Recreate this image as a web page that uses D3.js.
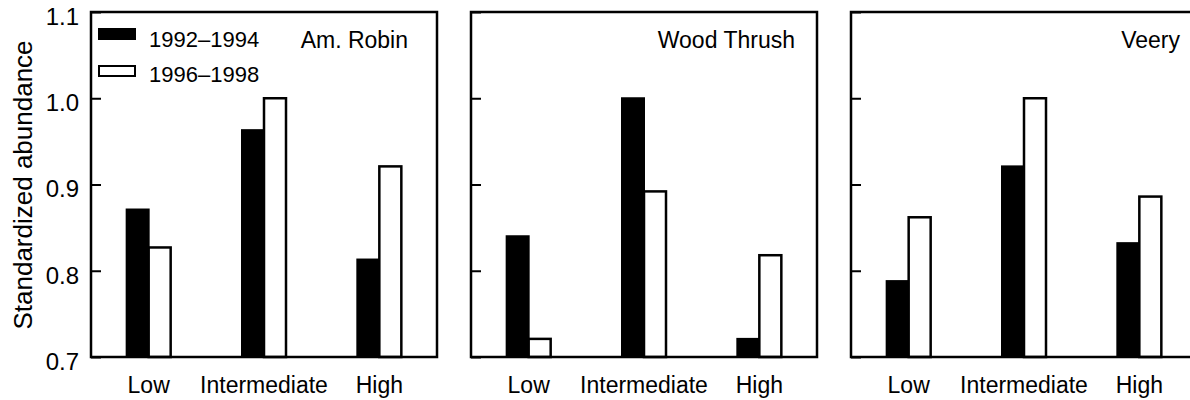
<!DOCTYPE html>
<html>
    <head>
        <meta charset="utf-8">
        <title></title>
        <script src="https://d3js.org/d3.v7.min.js"></script>
        <style>
            body { margin: 0; }
            svg { display: block; }
        </style>
    </head>

    <body>
        <svg id="my_dataviz" width="1190" height="400"></svg>
    </body>

    <script>

        // data
        var categories = ["Low", "Intermediate", "High"]
        var species = ["Am. Robin", "Wood Thrush", "Veery"]
        var periods = ["1992\u20131994", "1996\u20131998"]
        var early = [[0.871, 0.963, 0.813], [0.840, 1.0, 0.721], [0.788, 0.921, 0.832]]
        var late = [[0.827, 1.0, 0.921], [0.721, 0.892, 0.818], [0.862, 1.0, 0.886]]
        var yTicks = [0.7, 0.8, 0.9, 1.0, 1.1]

        // layout (note: "top" is taken by window.top)
        var panelLeft = [91, 471, 851]
        var labelInset = [29, 22, 17]
        var panelTop = 12, pw = 346, ph = 345
        var font = "'Liberation Sans', Arial, Helvetica, sans-serif"

        var svg = d3.select("svg")
        svg.append("rect").attr("width", 1190).attr("height", 400).attr("fill", "#fff")

        var y = d3.scaleLinear().domain([0.7, 1.1]).range([ph, 0])
        var x = d3.scaleBand().domain(categories).range([0, pw])
        var barW = 22

        species.forEach(function(sp, i) {
            var g = svg.append("g").attr("transform", "translate(" + panelLeft[i] + "," + panelTop + ")")

            // inner ticks
            var axis = d3.axisLeft(y).tickValues(yTicks).tickSize(-10).tickPadding(12)
                .tickFormat(i == 0 ? d3.format(".1f") : "")
            var ax = g.append("g").call(axis)
            ax.select(".domain").remove()
            ax.selectAll("line").attr("stroke", "#000").attr("stroke-width", 2)
            ax.selectAll("text").attr("dy", "0.52em")
                .style("font-family", font).style("font-size", "24px").attr("fill", "#000")

            // bars
            var rows = categories.map(function(c, j) { return {cat: c, a: early[i][j], b: late[i][j]} })
            g.selectAll(".early").data(rows).enter().append("rect")
                .attr("x", function(d) { return x(d.cat) + x.bandwidth() / 2 - barW })
                .attr("y", function(d) { return y(d.a) })
                .attr("width", barW)
                .attr("height", function(d) { return ph - y(d.a) })
                .attr("fill", "#000").attr("stroke", "#000").attr("stroke-width", 2)
            g.selectAll(".late").data(rows).enter().append("rect")
                .attr("x", function(d) { return x(d.cat) + x.bandwidth() / 2 })
                .attr("y", function(d) { return y(d.b) })
                .attr("width", barW)
                .attr("height", function(d) { return ph - y(d.b) })
                .attr("fill", "#fff").attr("stroke", "#000").attr("stroke-width", 2.5)

            // frame
            g.append("rect").attr("width", pw).attr("height", ph)
                .attr("fill", "none").attr("stroke", "#000").attr("stroke-width", 2.5)

            // category labels
            g.selectAll(".cat").data(categories).enter().append("text")
                .attr("x", function(d) { return x(d) + x.bandwidth() / 2 })
                .attr("y", ph + 36)
                .attr("text-anchor", "middle")
                .style("font-family", font).style("font-size", "23px")
                .text(function(d) { return d })

            // species name
            g.append("text").attr("x", pw - labelInset[i]).attr("y", 36)
                .attr("text-anchor", "end")
                .style("font-family", font).style("font-size", "23px")
                .text(sp)

            // legend in first panel
            if (i == 0) {
                periods.forEach(function(p, k) {
                    g.append("rect").attr("x", 8).attr("y", 17 + k * 37).attr("width", 36).attr("height", 10)
                        .attr("fill", k == 0 ? "#000" : "#fff").attr("stroke", "#000").attr("stroke-width", 2)
                    g.append("text").attr("x", 58).attr("y", 35 + k * 35)
                        .style("font-family", font).style("font-size", "22px")
                        .text(p)
                })
            }
        })

        // y axis title
        svg.append("text")
            .attr("transform", "rotate(-90)")
            .attr("x", -185).attr("y", 32)
            .attr("text-anchor", "middle")
            .style("font-family", font).style("font-size", "26px")
            .text("Standardized abundance")

    </script>
</html>
